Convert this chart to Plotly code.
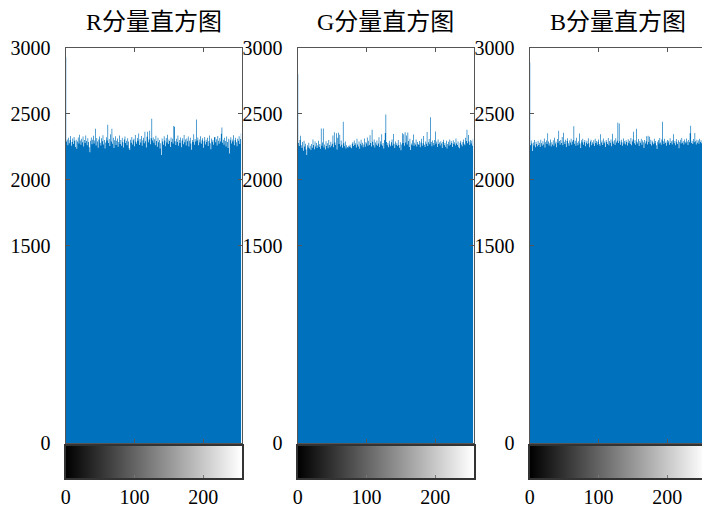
import plotly.graph_objects as go

# Grey levels 0..255 on the horizontal axis
levels = list(range(256))

# Pixel counts per grey level, red channel
r_counts = [
    2930, 2290, 2305, 2262, 2318, 2276, 2299, 2331, 2258, 2287, 2312, 2270, 2325, 2296, 2248, 2303,
    2235, 2289, 2320, 2274, 2341, 2298, 2266, 2310, 2284, 2327, 2251, 2301, 2279, 2336, 2293, 2262,
    2314, 2286, 2247, 2208, 2295, 2321, 2269, 2304, 2333, 2275, 2298, 2386, 2260, 2317, 2289, 2243,
    2306, 2328, 2281, 2259, 2315, 2292, 2337, 2268, 2301, 2236, 2283, 2322, 2297, 2417, 2278, 2309,
    2256, 2345, 2290, 2386, 2273, 2318, 2241, 2300, 2329, 2264, 2295, 2312, 2250, 2287, 2336, 2271,
    2302, 2258, 2319, 2285, 2244, 2306, 2327, 2279, 2296, 2262, 2315, 2290, 2238, 2226, 2303, 2281,
    2324, 2267, 2299, 2311, 2253, 2340, 2288, 2272, 2317, 2295, 2350, 2263, 2308, 2282, 2331, 2257,
    2300, 2319, 2276, 2363, 2291, 2245, 2326, 2363, 2284, 2305, 2372, 2269, 2314, 2463, 2298, 2321,
    2280, 2307, 2262, 2334, 2293, 2250, 2318, 2285, 2301, 2237, 2276, 2188, 2312, 2290, 2266, 2329,
    2297, 2254, 2316, 2283, 2342, 2270, 2305, 2293, 2248, 2320, 2286, 2311, 2274, 2407, 2402, 2291,
    2263, 2310, 2287, 2335, 2258, 2302, 2279, 2321, 2246, 2298, 2315, 2269, 2339, 2284, 2305, 2260,
    2313, 2292, 2327, 2251, 2296, 2318, 2274, 2228, 2301, 2286, 2344, 2265, 2309, 2289, 2457, 2297,
    2320, 2261, 2306, 2283, 2330, 2272, 2299, 2314, 2243, 2291, 2325, 2268, 2303, 2287, 2318, 2256,
    2294, 2336, 2277, 2231, 2312, 2288, 2301, 2266, 2323, 2325, 2284, 2307, 2259, 2332, 2296, 2273,
    2316, 2289, 2348, 2396, 2280, 2304, 2265, 2319, 2293, 2252, 2327, 2286, 2241, 2310, 2198, 2299,
    2322, 2275, 2306, 2290, 2337, 2262, 2300, 2318, 2284, 2253, 2311, 2296, 2329, 2270, 2308, 2350,
]

# Pixel counts per grey level, green channel
g_counts = [
    2800, 2278, 2255, 2301, 2333, 2262, 2240, 2287, 2219, 2296, 2251, 2273, 2230, 2188, 2262, 2245,
    2281, 2236, 2258, 2226, 2270, 2243, 2305, 2264, 2231, 2289, 2252, 2278, 2240, 2262, 2296, 2248,
    2271, 2235, 2389, 2257, 2282, 2389, 2244, 2268, 2229, 2292, 2255, 2276, 2238, 2301, 2263, 2247,
    2288, 2258, 2272, 2335, 2246, 2360, 2283, 2264, 2352, 2229, 2318, 2356, 2270, 2341, 2251, 2298,
    2266, 2242, 2440, 2276, 2254, 2289, 2237, 2261, 2249, 2243, 2258, 2252, 2266, 2247, 2239, 2273,
    2285, 2256, 2298, 2263, 2277, 2244, 2310, 2268, 2252, 2290, 2235, 2273, 2304, 2259, 2281, 2246,
    2267, 2312, 2250, 2286, 2274, 2321, 2258, 2295, 2263, 2337, 2279, 2252, 2379, 2288, 2262, 2305,
    2244, 2283, 2266, 2298, 2257, 2275, 2323, 2249, 2291, 2268, 2345, 2257, 2279, 2236, 2301, 2354,
    2495, 2287, 2262, 2279, 2247, 2296, 2268, 2253, 2284, 2306, 2259, 2347, 2272, 2241, 2290, 2263,
    2277, 2255, 2301, 2264, 2243, 2285, 2224, 2268, 2352, 2279, 2344, 2258, 2361, 2283, 2336, 2267,
    2358, 2293, 2248, 2311, 2226, 2275, 2262, 2299, 2343, 2257, 2281, 2268, 2305, 2251, 2287, 2271,
    2263, 2294, 2246, 2282, 2310, 2258, 2276, 2331, 2265, 2249, 2290, 2273, 2362, 2255, 2284, 2308,
    2269, 2475, 2286, 2254, 2297, 2278, 2261, 2301, 2365, 2272, 2289, 2248, 2306, 2270, 2283, 2259,
    2292, 2275, 2241, 2287, 2303, 2264, 2279, 2250, 2296, 2236, 2271, 2288, 2257, 2305, 2266, 2293,
    2278, 2249, 2300, 2271, 2285, 2259, 2312, 2274, 2263, 2290, 2247, 2238, 2281, 2296, 2268, 2253,
    2287, 2305, 2272, 2261, 2318, 2294, 2379, 2276, 2340, 2289, 2263, 2301, 2274, 2296, 2258, 2310,
]

# Pixel counts per grey level, blue channel
b_counts = [
    2890, 2262, 2297, 2274, 2218, 2283, 2259, 2301, 2246, 2288, 2270, 2253, 2296, 2264, 2281, 2249,
    2303, 2276, 2258, 2291, 2267, 2312, 2244, 2285, 2298, 2271, 2352, 2289, 2260, 2277, 2306, 2251,
    2284, 2268, 2299, 2257, 2318, 2275, 2290, 2246, 2309, 2280, 2371, 2294, 2266, 2301, 2279, 2325,
    2262, 2356, 2288, 2270, 2304, 2249, 2293, 2315, 2276, 2258, 2297, 2283, 2310, 2266, 2289, 2301,
    2405, 2272, 2295, 2258, 2318, 2280, 2262, 2291, 2350, 2274, 2240, 2299, 2283, 2310, 2265, 2287,
    2302, 2253, 2281, 2296, 2269, 2314, 2277, 2247, 2290, 2304, 2261, 2285, 2273, 2299, 2256, 2311,
    2279, 2294, 2266, 2288, 2305, 2271, 2257, 2345, 2283, 2298, 2264, 2313, 2276, 2290, 2249, 2302,
    2286, 2270, 2317, 2261, 2293, 2280, 2306, 2254, 2348, 2289, 2272, 2300, 2263, 2315, 2282, 2296,
    2432, 2278, 2427, 2291, 2266, 2303, 2284, 2257, 2312, 2275, 2294, 2268, 2300, 2286, 2259, 2307,
    2281, 2295, 2270, 2316, 2262, 2290, 2305, 2363, 2277, 2299, 2266, 2386, 2288, 2274, 2309, 2256,
    2293, 2280, 2311, 2265, 2298, 2284, 2241, 2302, 2275, 2291, 2330, 2268, 2334, 2287, 2326, 2271,
    2304, 2259, 2296, 2282, 2269, 2310, 2276, 2293, 2261, 2232, 2288, 2301, 2274, 2317, 2283, 2266,
    2305, 2440, 2292, 2270, 2311, 2278, 2289, 2257, 2302, 2283, 2296, 2265, 2314, 2279, 2291, 2268,
    2300, 2345, 2277, 2294, 2262, 2308, 2285, 2271, 2299, 2238, 2287, 2303, 2274, 2316, 2281, 2293,
    2267, 2305, 2288, 2276, 2313, 2290, 2263, 2301, 2284, 2352, 2410, 2279, 2296, 2270, 2309, 2285,
    2355, 2292, 2268, 2304, 2281, 2297, 2273, 2311, 2286, 2299, 2276, 2302, 2288, 2265, 2307, 2291,
]

titles = ["R分量直方图", "G分量直方图", "B分量直方图"]
channels = [r_counts, g_counts, b_counts]

y_ticks = [0, 1500, 2000, 2500, 3000]
x_ticks = [0, 100, 200]

W, H = 702, 506
BAR_BLUE = "#0072BD"
FRAME = "#555555"
TICK_FONT = dict(family="Liberation Serif, Times New Roman, serif", size=20, color="black")
TITLE_FONT = dict(family="Liberation Serif, Noto Sans CJK SC, serif", size=24, color="black")

# Panel placement in pixels: left edge of each axes box, box width
panel_left = [65.5, 297.5, 529.5]
panel_width = 176.0
hist_top, hist_bottom = 48.0, 443.0
strip_top, strip_bottom = 446.0, 478.0

fig = go.Figure()
layout = {}


def key(a):
    return ("xaxis" if a[0] == "x" else "yaxis") + a[1:]


for i, (title, counts) in enumerate(zip(titles, channels)):
    hx, hy = f"x{2*i+1}", f"y{2*i+1}"
    sx, sy = f"x{2*i+2}", f"y{2*i+2}"

    left = panel_left[i]
    right = left + panel_width
    x_max = 255.5
    clipped = False
    if right > W:
        # last panel runs off the right edge of the page
        x_max = -0.5 + (W - left) / panel_width * 256
        right = W
        clipped = True
    dom_x = [left / W, right / W]

    # histogram as a stepped filled area
    fig.add_trace(go.Scatter(
        x=levels, y=counts, xaxis=hx, yaxis=hy,
        mode="lines", line=dict(width=0, shape="hvh", color=BAR_BLUE),
        fill="tozeroy", fillcolor=BAR_BLUE, hoverinfo="x+y",
    ))

    # grey-level colour strip under the histogram
    fig.add_trace(go.Heatmap(
        x=levels, y=[0], z=[levels], xaxis=sx, yaxis=sy,
        colorscale=[[0, "black"], [1, "white"]], zmin=0, zmax=255,
        showscale=False, hoverinfo="skip",
    ))

    layout[key(hx)] = dict(
        domain=dom_x, range=[-0.5, x_max], anchor=hy, automargin=False,
        showgrid=False, zeroline=False, showticklabels=False,
        tickvals=x_ticks, ticks="inside", ticklen=4, tickcolor=FRAME,
        showline=True, linecolor=FRAME, linewidth=1, mirror="ticks",
    )
    layout[key(hy)] = dict(
        domain=[1 - hist_bottom / H, 1 - hist_top / H], range=[0, 3000], anchor=hx,
        automargin=False, showgrid=False, zeroline=False,
        tickvals=y_ticks, ticktext=[str(v) for v in y_ticks],
        ticks="inside", ticklen=4, tickcolor=FRAME,
        tickfont=TICK_FONT, ticklabelstandoff=10,
        showline=True, linecolor=FRAME, linewidth=1,
        mirror=False if clipped else "ticks",
    )
    layout[key(sx)] = dict(
        domain=dom_x, range=[-0.5, x_max], anchor=sy, automargin=False,
        showgrid=False, zeroline=False,
        tickvals=x_ticks, ticktext=[str(v) for v in x_ticks],
        ticks="inside", ticklen=3, tickcolor="#777777",
        tickfont=TICK_FONT, ticklabelstandoff=0,
        showline=True, linecolor="#333333", linewidth=1.5, mirror=True,
    )
    layout[key(sy)] = dict(
        domain=[1 - strip_bottom / H, 1 - strip_top / H], range=[-0.5, 0.5], anchor=sx,
        automargin=False, showgrid=False, zeroline=False, showticklabels=False,
        showline=True, linecolor="#333333", linewidth=1.5,
        mirror=False if clipped else True,
    )

    fig.add_annotation(
        text=title, xref="paper", yref="paper",
        x=(panel_left[i] + panel_width / 2) / W, y=1 - 22 / H,
        xanchor="center", yanchor="middle", showarrow=False, font=TITLE_FONT,
    )

fig.update_layout(
    width=W, height=H, margin=dict(l=0, r=0, t=0, b=0, autoexpand=False),
    paper_bgcolor="white", plot_bgcolor="white", showlegend=False,
    **layout,
)

fig.write_html("out.html")
